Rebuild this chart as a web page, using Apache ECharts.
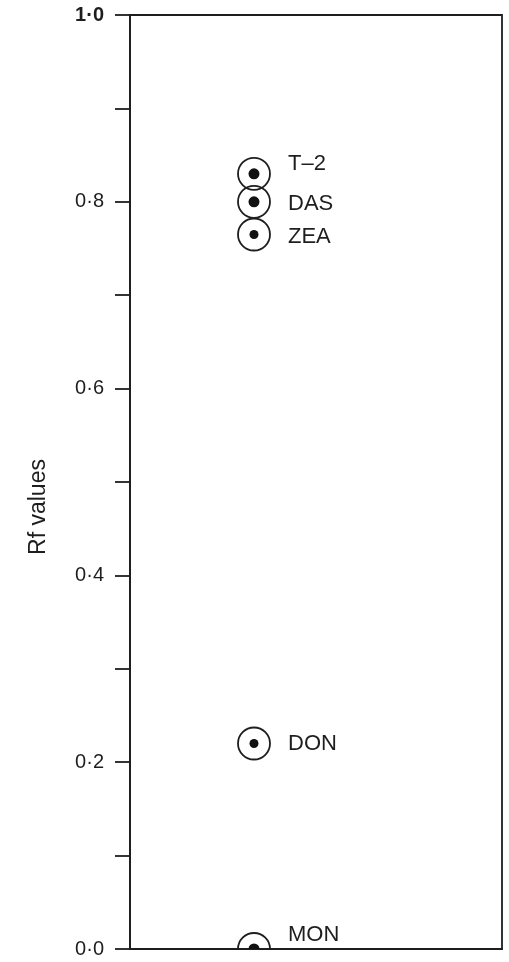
<!DOCTYPE html>
<html>
<head>
<meta charset="utf-8">
<script src="https://cdn.jsdelivr.net/npm/echarts@6/dist/echarts.min.js"></script>
<style>
html,body{margin:0;padding:0;background:#fff;}
#chart{width:509px;height:962px;}
</style>
</head>
<body>
<div id="chart"></div>
<script>
// ---- data ----
const compounds = ['T–2', 'DAS', 'ZEA', 'DON', 'MON'];
const rfValues = [0.83, 0.80, 0.765, 0.22, 0.0];
const laneX = [1, 1, 1, 1, 1];
const yTickLabels = ['0·0', '0·2', '0·4', '0·6', '0·8', '1·0'];
const yTickValues = [0, 0.2, 0.4, 0.6, 0.8, 1.0];

// ---- styling helpers (not data) ----
const labelNudge = { 'T–2': -10, 'DAS': 2, 'ZEA': 2, 'DON': 0, 'MON': -14 };
const dotRadius = { 'T–2': 5.5, 'DAS': 5.5, 'ZEA': 4.5, 'DON': 4.5, 'MON': 5.5 };

const chart = echarts.init(document.getElementById('chart'), null, { renderer: 'canvas' });
const ink = '#1e1e1e';
const font = '"Liberation Sans", Arial, sans-serif';

chart.setOption({
  backgroundColor: '#fff',
  animation: false,
  grid: {
    left: 130, top: 15, right: 7, bottom: 13,
    show: true, borderColor: ink, borderWidth: 1.8, backgroundColor: 'transparent'
  },
  xAxis: {
    type: 'value', min: 0, max: 3,
    axisLine: { show: true, lineStyle: { color: ink, width: 1.8 } },
    axisTick: { show: false }, axisLabel: { show: false }, splitLine: { show: false }
  },
  yAxis: {
    type: 'value', min: 0, max: 1, interval: 0.1,
    name: 'Rf values', nameLocation: 'middle', nameGap: 80, nameRotate: 90,
    nameTextStyle: { fontFamily: font, fontSize: 23, color: ink, padding: [0, 50, 0, 0] },
    axisLine: { show: true, lineStyle: { color: ink, width: 1.8 } },
    axisTick: { show: true, inside: false, length: 15, lineStyle: { color: ink, width: 1.8 } },
    splitLine: { show: false },
    axisLabel: {
      margin: 26, fontFamily: font, fontSize: 20, color: ink,
      formatter: function (v) {
        for (let i = 0; i < yTickValues.length; i++) {
          if (Math.abs(yTickValues[i] - v) < 1e-6) {
            return i === yTickValues.length - 1 ? '{b|' + yTickLabels[i] + '}' : yTickLabels[i];
          }
        }
        return '';
      },
      rich: { b: { fontFamily: font, fontSize: 20, fontWeight: 'bold', color: ink } }
    }
  },
  series: [{
    type: 'custom',
    clip: true,
    data: laneX.map((x, i) => [x, rfValues[i], i]),
    renderItem: function (params, api) {
      const idx = api.value(2);
      const p = api.coord([api.value(0), api.value(1)]);
      const name = compounds[idx];
      const dy = labelNudge[name] || 0;
      return {
        type: 'group',
        children: [
          { type: 'circle', shape: { cx: p[0], cy: p[1], r: 16 },
            style: { fill: 'none', stroke: ink, lineWidth: 1.8 } },
          { type: 'circle', shape: { cx: p[0], cy: p[1], r: dotRadius[name] || 5 },
            style: { fill: '#111' } },
          { type: 'text', x: p[0] + 34, y: p[1] + dy,
            style: { text: name, fontFamily: font, fontSize: 22, fill: ink,
                     align: 'left', verticalAlign: 'middle' } }
        ]
      };
    }
  }]
});
</script>
</body>
</html>
